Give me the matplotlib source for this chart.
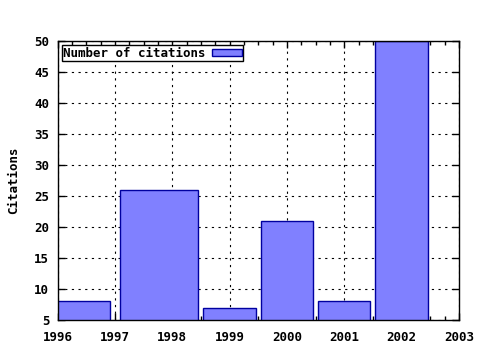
import numpy as np
import matplotlib
matplotlib.use('Agg')
from matplotlib import pyplot as plt
from matplotlib.ticker import MultipleLocator

years = [1996, 1998, 1999, 2000, 2001, 2002]
citations = [8, 26, 7, 21, 8, 50]
x_ticks = [1996, 1997, 1998, 1999, 2000, 2001, 2002, 2003]
y_ticks = [5, 10, 15, 20, 25, 30, 35, 40, 45, 50]

# gnuplot-like "boxes" with relative boxwidth: each box reaches toward its neighbours
rel = 0.91
x = np.array(years, dtype=float)
prev_gap = np.diff(x, prepend=x[0] - (x[1] - x[0]))
next_gap = np.diff(x, append=x[-1] + (x[-1] - x[-2]))
lefts = x - prev_gap / 2 * rel
rights = x + next_gap / 2 * rel

plt.rcParams['font.family'] = 'DejaVu Sans Mono'
plt.rcParams['font.weight'] = 'bold'

fig = plt.figure(figsize=(4.8, 3.5), dpi=100)
ax = fig.add_axes([0.12, 0.0857, 0.836, 0.797])

ax.bar(lefts, citations, width=rights - lefts, align='edge',
       color='#8080ff', edgecolor='#0000a0', linewidth=1.0,
       label='Number of citations', zorder=2)

ax.set_xlim(1996, 2003)
ax.set_ylim(5, 50)
ax.set_xticks(x_ticks)
ax.set_yticks(y_ticks)
ax.xaxis.set_minor_locator(MultipleLocator(0.25))
ax.tick_params(which='both', direction='in', top=True, right=True,
               labelsize=9, width=1)
ax.tick_params(axis='x', pad=8)
ax.tick_params(axis='y', pad=6)
ax.tick_params(which='major', length=5)
ax.tick_params(which='minor', length=3)
ax.grid(True, which='major', color='black', linestyle=(0, (2, 4)), linewidth=0.8)
ax.set_axisbelow(True)
for s in ax.spines.values():
    s.set_linewidth(1)

ax.set_ylabel('Citations', fontsize=9, fontweight='bold', labelpad=10)

leg = ax.legend(loc='upper left', markerfirst=False, fancybox=False,
                framealpha=1, edgecolor='black', fontsize=9,
                borderaxespad=0.35, borderpad=0.1, handlelength=2.4,
                handleheight=0.5, handletextpad=0.5)
leg.get_frame().set_linewidth(1)

fig.savefig('out.png', dpi=100)
